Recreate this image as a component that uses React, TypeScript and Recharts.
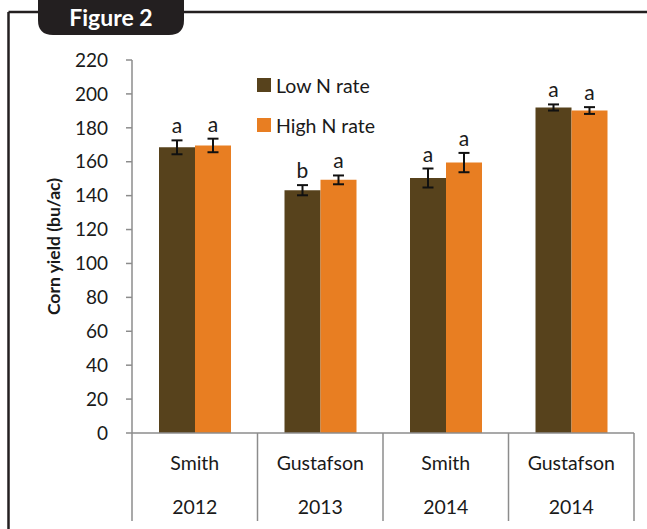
import React from "react";
import { Bar, BarChart, ErrorBar, LabelList, Legend, XAxis, YAxis } from "recharts";

const sites = ["Smith", "Gustafson", "Smith", "Gustafson"];
const years = ["2012", "2013", "2014", "2014"];
const seriesNames = ["Low N rate", "High N rate"];
const lowN = [168.5, 143.2, 150.4, 192.0];
const highN = [169.6, 149.3, 159.5, 190.2];
const lowErr = [4.1, 3.0, 5.6, 1.8];
const highErr = [4.0, 2.6, 5.7, 2.0];
const lowLetters = ["a", "b", "a", "a"];
const highLetters = ["a", "a", "a", "a"];
const yTicks = [0, 20, 40, 60, 80, 100, 120, 140, 160, 180, 200, 220];

const data = sites.map((site, i) => ({
  key: `${site}-${years[i]}-${i}`,
  site,
  year: years[i],
  low: lowN[i],
  high: highN[i],
  lowErr: lowErr[i],
  highErr: highErr[i],
  lowLetter: lowLetters[i],
  highLetter: highLetters[i],
}));

const FONT = "Lato, 'Open Sans', sans-serif";
const TEXT = "#1a1a1a";
const AXIS = "#8c8c8c";
const DARK = "#57421c";
const ORANGE = "#e87e22";

function CategoryTick(props: any) {
  const { x, y, payload, index } = props;
  const row = data[index];
  const half = payload?.offset ?? 62.75;
  const last = index === data.length - 1;
  return (
    <g>
      <line x1={x - half} x2={x - half} y1={y} y2={y + 88} stroke={AXIS} strokeWidth={1.5} />
      {last && <line x1={x + half} x2={x + half} y1={y} y2={y + 88} stroke={AXIS} strokeWidth={1.5} />}
      <text x={x} y={y + 37} textAnchor="middle" fontFamily={FONT} fontSize={19.5} fill={TEXT}>
        {row?.site}
      </text>
      <text x={x} y={y + 81} textAnchor="middle" fontFamily={FONT} fontSize={19.5} fill={TEXT}>
        {row?.year}
      </text>
    </g>
  );
}

function letterLabel(values: number[], errs: number[]) {
  return (props: any) => {
    const { x, y, width, height, value, index } = props;
    const pxPerUnit = Number(height) / values[index];
    const top = Number(y) - errs[index] * pxPerUnit;
    return (
      <text x={Number(x) + Number(width) / 2} y={top - 7} textAnchor="middle" fontFamily={FONT} fontSize={21} fill={TEXT}>
        {value}
      </text>
    );
  };
}

function LegendBox(props: any) {
  const items = [...(props.payload ?? [])].sort(
    (a: any, b: any) => seriesNames.indexOf(a.value) - seriesNames.indexOf(b.value)
  );
  return (
    <div style={{ fontFamily: FONT, fontSize: 19.5, color: TEXT }}>
      {items.map((item: any) => (
        <div key={item.value} style={{ display: "flex", alignItems: "center", height: 40 }}>
          <span style={{ display: "inline-block", width: 14, height: 14, background: item.color, marginRight: 5 }} />
          <span>{item.value}</span>
        </div>
      ))}
    </div>
  );
}

export default function App() {
  return (
    <div style={{ position: "absolute", left: 0, top: 0, width: 647, height: 529, background: "#fff" }}>
      <BarChart width={647} height={529} data={data} margin={{ top: 60, right: 13, bottom: 0, left: 0 }} barSize={36} barGap={0}>
        <XAxis
          dataKey="key"
          height={96}
          axisLine={{ stroke: AXIS, strokeWidth: 1.5 }}
          tickLine={false}
          tickSize={0}
          tickMargin={0}
          interval={0}
          tick={<CategoryTick />}
        />
        <YAxis
          width={132}
          domain={[0, 220]}
          ticks={yTicks}
          interval={0}
          axisLine={{ stroke: AXIS, strokeWidth: 1.5 }}
          tickLine={{ stroke: AXIS, strokeWidth: 1.5 }}
          tickSize={6}
          tickMargin={18}
          tick={{ fill: TEXT, fontSize: 19, fontFamily: FONT }}
          label={{
            value: "Corn yield (bu/ac)",
            angle: -90,
            position: "insideLeft",
            offset: 0,
            dx: 54,
            style: { fill: TEXT, fontSize: 17.5, fontWeight: 700, fontFamily: FONT, textAnchor: "middle" },
          }}
        />
        <Legend
          layout="vertical"
          verticalAlign="middle"
          align="center"
          content={<LegendBox />}
          wrapperStyle={{ left: 257, top: 65, width: 170 }}
        />
        <Bar dataKey="low" name="Low N rate" fill={DARK} isAnimationActive={false}>
          <ErrorBar dataKey="lowErr" width={5.5} strokeWidth={2} stroke="#111" isAnimationActive={false} />
          <LabelList dataKey="lowLetter" content={letterLabel(lowN, lowErr)} />
        </Bar>
        <Bar dataKey="high" name="High N rate" fill={ORANGE} isAnimationActive={false}>
          <ErrorBar dataKey="highErr" width={5.5} strokeWidth={2} stroke="#111" isAnimationActive={false} />
          <LabelList dataKey="highLetter" content={letterLabel(highN, highErr)} />
        </Bar>
      </BarChart>
      <svg width={647} height={529} style={{ position: "absolute", left: 0, top: 0, pointerEvents: "none" }}>
        <line x1={8.5} x2={647} y1={12} y2={12} stroke="#231f20" strokeWidth={2.5} />
        <line x1={8.5} x2={8.5} y1={12} y2={529} stroke="#231f20" strokeWidth={2.5} />
        <path d="M38,0 H184 V20 Q184,35 169,35 H53 Q38,35 38,20 Z" fill="#231f20" />
        <text x={111} y={26} textAnchor="middle" fontFamily={FONT} fontWeight={700} fontSize={23} fill="#fff">
          Figure 2
        </text>
      </svg>
    </div>
  );
}
